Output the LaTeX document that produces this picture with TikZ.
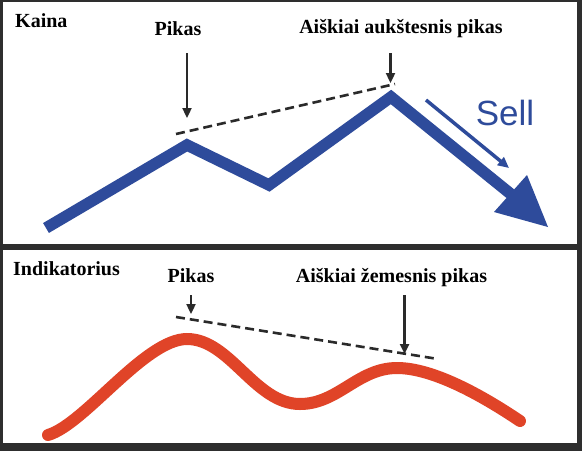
\documentclass[tikz,border=0pt]{standalone}
\usepackage{fontspec}
\setmainfont{Liberation Serif}
\newfontfamily\sellfont{Liberation Sans}
\usetikzlibrary{arrows.meta}
\definecolor{frame}{HTML}{2E2E2E}
\definecolor{pblue}{HTML}{2E4B9B}
\definecolor{pred}{HTML}{E04428}
\definecolor{ark}{HTML}{2A2A2A}
\tikzset{
  lbl/.style={font=\fontsize{20}{22}\selectfont\bfseries, inner sep=0pt},
  darrow/.style={draw=ark, line width=2.3pt, -{Triangle[length=10pt,width=9pt]}},
  dline/.style={draw=ark, line width=2.6pt, dash pattern=on 9pt off 5pt},
}
\begin{document}
\begin{tikzpicture}[x=1pt,y=-1pt]
\useasboundingbox (0,0) rectangle (582,451);
\fill[frame] (0,0) rectangle (582,451);
\fill[white] (3,2) rectangle (577,244);
\fill[white] (3,250) rectangle (577,443);

% ---- top panel
\node[lbl, anchor=base west] (kaina) at (15,27) {Kaina};
\node[lbl, anchor=base] (pik1) at (178,35) {Pikas};
\node[lbl, anchor=base] (aisk1) at (401,33) {Aiškiai aukštesnis pikas};

\coordinate (a1s) at (187,53);
\coordinate (a1e) at (187,118);
\coordinate (a2s) at (390.5,53);
\coordinate (a2e) at (390.5,83);
\draw[darrow] (a1s) -- (a1e);
\draw[darrow] (a2s) -- (a2e);

\coordinate (d1s) at (176,134);
\coordinate (d1e) at (395,84);
\draw[dline] (d1s) -- (d1e);

\coordinate (z0) at (46,228);
\coordinate (z1) at (187,145);
\coordinate (z2) at (269,185);
\coordinate (z3) at (391,97);
\coordinate (z4) at (512,195);
\draw[pblue, line width=11.5pt, line join=miter] (z0) -- (z1) -- (z2) -- (z3) -- (z4);
\coordinate (h1) at (494,212);
\coordinate (h2) at (527,175);
\coordinate (ht) at (548,227);
\fill[pblue] (h1) -- (h2) -- (ht) -- cycle;

\coordinate (t1) at (426,100);
\coordinate (t2) at (509,168);
\draw[pblue, line width=3.5pt, -{Triangle[length=11pt,width=10pt]}] (t1) -- (t2);
\node[font=\sellfont\fontsize{35}{38}\selectfont, text=pblue, anchor=base, inner sep=0pt] (sell) at (505,125) {Sell};

% ---- bottom panel
\node[lbl, anchor=base west] (ind) at (13,275) {Indikatorius};
\node[lbl, anchor=base] (pik2) at (191,282) {Pikas};
\node[lbl, anchor=base] (aisk2) at (391.5,282) {Aiškiai žemesnis pikas};

\coordinate (b1s) at (191,295);
\coordinate (b1e) at (191,314);
\coordinate (b2s) at (404.6,295);
\coordinate (b2e) at (404.6,354);
\draw[darrow] (b1s) -- (b1e);
\draw[darrow] (b2s) -- (b2e);

\coordinate (d2s) at (176,317);
\coordinate (d2e) at (438,359);
\draw[dline] (d2s) -- (d2e);

\coordinate (r0) at (48,435);
\coordinate (r1) at (187,339);
\coordinate (r2) at (300,404);
\coordinate (r3) at (397,368);
\coordinate (r4) at (520,421);
\draw[pred, line width=12pt, line cap=round]
  (r0) .. controls (85,424) and (145,339) .. (r1)
       .. controls (230,339) and (255,404) .. (r2)
       .. controls (338,404) and (358,368) .. (r3)
       .. controls (432,368) and (480,394) .. (r4);
\end{tikzpicture}
\end{document}
